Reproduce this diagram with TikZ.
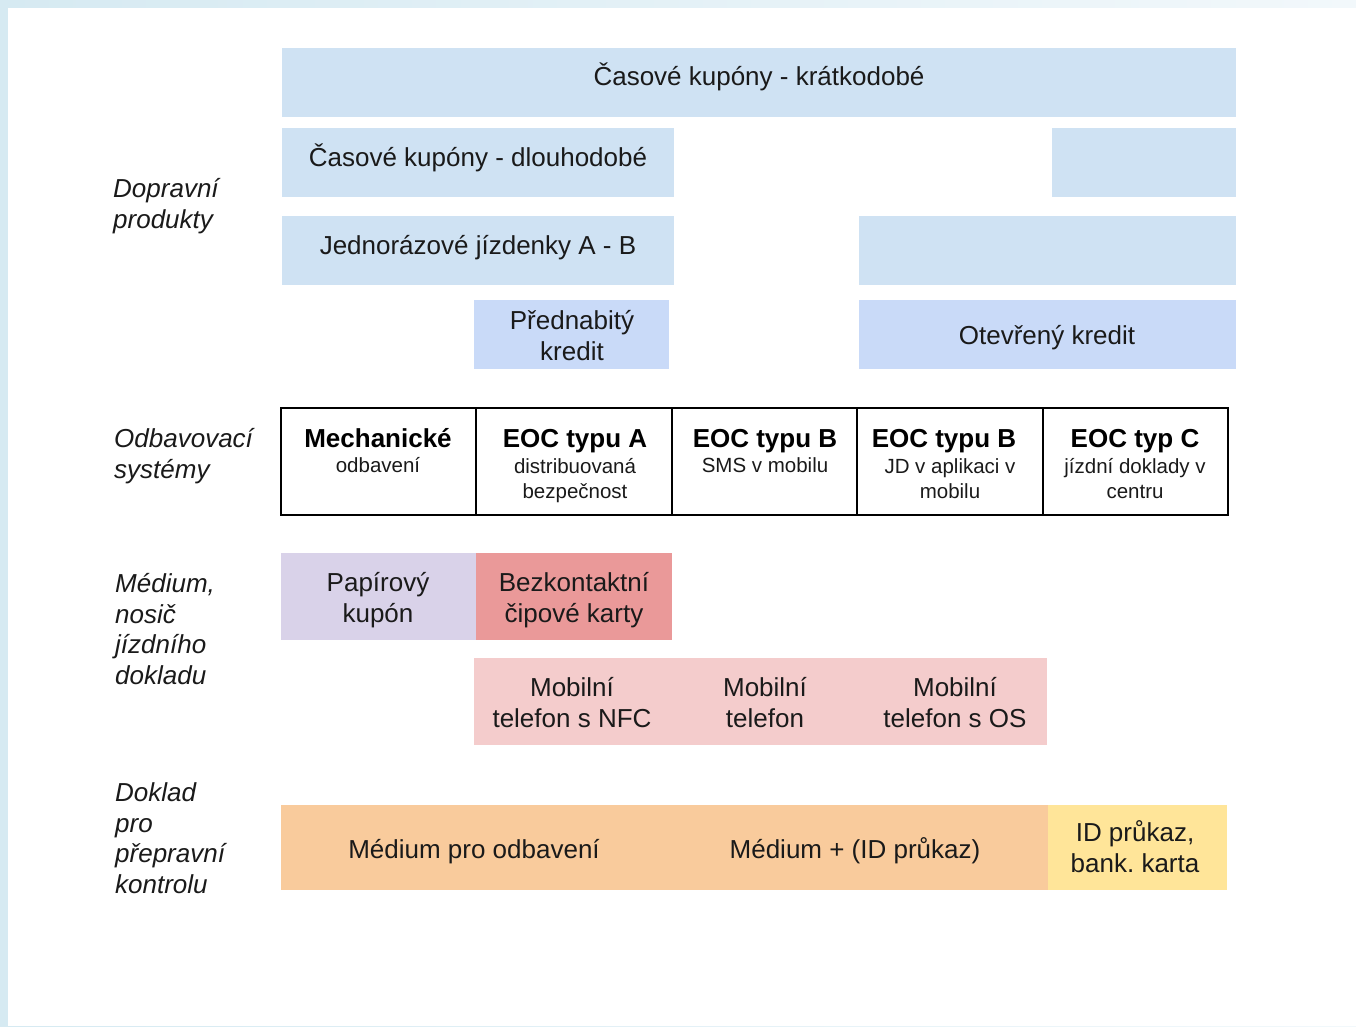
\documentclass[tikz,border=0pt]{standalone}
\usepackage{fontspec}
\setmainfont{Liberation Sans}
\frenchspacing
\definecolor{bluea}{HTML}{CFE2F3}
\definecolor{blueb}{HTML}{C9DAF8}
\definecolor{lav}{HTML}{D9D2E9}
\definecolor{redd}{HTML}{EA9999}
\definecolor{pinkk}{HTML}{F4CCCC}
\definecolor{orng}{HTML}{F9CB9C}
\definecolor{yell}{HTML}{FFE599}
\definecolor{ink}{HTML}{1A1A1A}
\definecolor{bgl}{HTML}{D6EAF2}
\definecolor{bgr}{HTML}{F2F8FB}
\tikzset{
  rect/.style 2 args={inner sep=0, outer sep=0, anchor=north west, minimum width=#1, minimum height=#2},
  cell/.style={rect={#1}{107}, draw=black, line width=2.8pt},
  main/.style={font=\fontsize{26}{31}\selectfont\frenchspacing, text=ink, inner sep=0, align=center, anchor=base},
  hdr/.style={font=\fontsize{26}{31}\selectfont\bfseries, text=black, inner sep=0, anchor=base},
  sub/.style={font=\fontsize{20.5}{25}\selectfont, text=ink, inner sep=0, align=center, anchor=base},
  side/.style={font=\fontsize{26}{30.5}\selectfont\itshape, text=ink, inner sep=0, align=left, anchor=base west}
}
\begin{document}
\begin{tikzpicture}[x=1pt,y=-1pt]
\useasboundingbox (0,0) rectangle (1356,1026);
\shade[left color=bgl, right color=bgr] (0,0) rectangle (1356,1026);
\fill[white] (8,8) rectangle (1356,1026);

% Dopravni produkty
\node[rect={954}{69}, fill=bluea] (b1) at (282,48) {};
\node[rect={392}{69}, fill=bluea] (b2) at (282,128) {};
\node[rect={184}{69}, fill=bluea] (b3) at (1052,128) {};
\node[rect={392}{69}, fill=bluea] (b4) at (282,216) {};
\node[rect={377}{69}, fill=bluea] (b5) at (859,216) {};
\node[rect={195}{69}, fill=blueb] (b6) at (474,300) {};
\node[rect={377}{69}, fill=blueb] (b7) at (859,300) {};
\node[main] (t1) at (759,85) {Časové kupóny - krátkodobé};
\node[main] (t2) at (478,166) {Časové kupóny - dlouhodobé};
\node[main] (t4) at (478,254) {Jednorázové jízdenky A - B};
\node[main] (t6) at (572,360) {Přednabitý\\kredit};
\node[main] (t7) at (1047,344) {Otevřený kredit};

% Odbavovaci systemy
\node[cell=195] (c1) at (281,408) {};
\node[cell=196] (c2) at (476,408) {};
\node[cell=185] (c3) at (672,408) {};
\node[cell=186] (c4) at (857,408) {};
\node[cell=185] (c5) at (1043,408) {};
\node[hdr] (h1) at (378,447) {Mechanické};
\node[sub] (s1) at (378,472) {odbavení};
\node[hdr] (h2) at (575,447) {EOC typu A};
\node[sub] (s2) at (575,498) {distribuovaná\\bezpečnost};
\node[hdr] (h3) at (765,447) {EOC typu B};
\node[sub] (s3) at (765,472) {SMS v mobilu};
\node[hdr] (h4) at (944,447) {EOC typu B};
\node[sub] (s4) at (950,498) {JD v aplikaci v\\mobilu};
\node[hdr] (h5) at (1135,447) {EOC typ C};
\node[sub] (s5) at (1135,498) {jízdní doklady v\\centru};

% Medium
\node[rect={195}{87}, fill=lav] (m1) at (281,553) {};
\node[rect={196}{87}, fill=redd] (m2) at (476,553) {};
\node[rect={573}{87}, fill=pinkk] (m3) at (474,658) {};
\node[main] (u1) at (378,622) {Papírový\\kupón};
\node[main] (u2) at (574,622) {Bezkontaktní\\čipové karty};
\node[main] (u3) at (572,727) {Mobilní\\telefon s NFC};
\node[main] (u4) at (765,727) {Mobilní\\telefon};
\node[main] (u5) at (955,727) {Mobilní\\telefon s OS};

% Doklad
\node[rect={387}{85}, fill=orng] (d1) at (281,805) {};
\node[rect={380}{85}, fill=orng] (d2) at (668,805) {};
\node[rect={179}{85}, fill=yell] (d3) at (1048,805) {};
\node[main] (v1) at (474,858) {Médium pro odbavení};
\node[main] (v2) at (855,858) {Médium + (ID průkaz)};
\node[main] (v3) at (1135,872) {ID průkaz,\\bank. karta};

% side labels
\node[side] (l1) at (113,228) {Dopravní\\produkty};
\node[side] (l2) at (114,478) {Odbavovací\\systémy};
\node[side] (l3) at (115,684) {Médium,\\nosič\\jízdního\\dokladu};
\node[side] (l4) at (115,893) {Doklad\\pro\\přepravní\\kontrolu};
\end{tikzpicture}
\end{document}
